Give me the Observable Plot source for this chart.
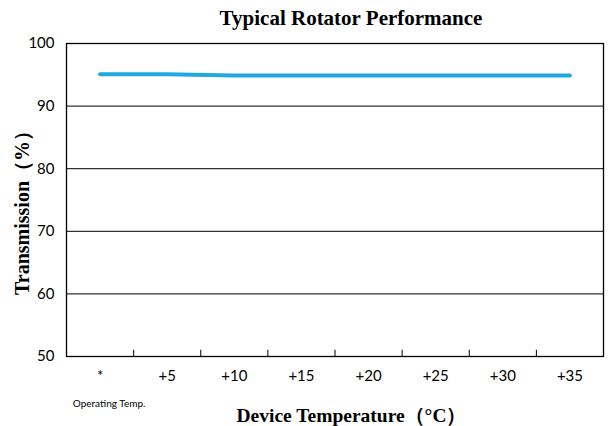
<!DOCTYPE html>
<html><head><meta charset="utf-8">
<script src="https://cdn.jsdelivr.net/npm/d3@7"></script>
<script src="https://cdn.jsdelivr.net/npm/@observablehq/plot@0.6"></script>
<style>
body{margin:0;background:#fff;width:610px;height:426px;overflow:hidden}
.title{height:36px;padding-left:92px;text-align:center;font:bold 21px "Liberation Serif","DejaVu Serif",serif;line-height:36px;color:#000}
.xlabel{height:16px;padding-left:93px;text-align:center;font:bold 19.5px "Liberation Serif","DejaVu Serif",serif;line-height:16px;color:#000;white-space:nowrap}
#chart svg{display:block}
</style></head><body>
<div class="title">Typical Rotator Performance</div>
<div id="chart"></div>
<div class="xlabel">Device Temperature（°C）</div>
<script>
const categories = ["*", "+5", "+10", "+15", "+20", "+25", "+30", "+35"];
const transmission = [95.1, 95.1, 94.9, 94.9, 94.9, 94.9, 94.9, 94.9];
const yTicks = [50, 60, 70, 80, 90, 100];
const gridValues = [60, 70, 80, 90];
const yLabel = "Transmission（%）";
const footnote = "Operating Temp.";

const n = categories.length;
const data = categories.map((c, i) => ({c, x: i + 0.5, v: transmission[i]}));
const positions = data.map(d => d.x);
const boundaries = d3.range(1, n);

const chart = Plot.plot({
  width: 610, height: 372,
  marginTop: 7, marginBottom: 52, marginLeft: 66, marginRight: 7,
  x: {domain: [0, n]},
  y: {domain: [50, 100]},
  style: {fontFamily: "Lato, 'Open Sans', sans-serif", fontSize: "15px", color: "#000", background: "#fff", overflow: "visible"},
  marks: [
    Plot.ruleY(gridValues, {stroke: "#000", strokeWidth: 1}),
    Plot.ruleX(boundaries, {y1: 50, y2: 51, stroke: "#000", strokeWidth: 1}),
    Plot.frame({stroke: "#000", strokeWidth: 1.3}),
    Plot.line(data, {x: "x", y: "v", stroke: "#22a8e0", strokeWidth: 4}),
    Plot.axisY({ticks: yTicks, tickSize: 0, tickPadding: 12, label: null}),
    Plot.axisX({ticks: positions, tickSize: 0, tickPadding: 14, tickFormat: d => categories[Math.floor(d)], label: null}),
    Plot.text([yLabel], {frameAnchor: "left", textAnchor: "middle", rotate: -90, dx: -44, dy: 8, fontWeight: "bold", fontFamily: "'Liberation Serif', serif", fontSize: 20}),
    Plot.text([data[0]], {x: "x", text: () => footnote, frameAnchor: "bottom", dy: 50, dx: 9, fontSize: 10, letterSpacing: "-0.3px"})
  ]
});
document.getElementById("chart").appendChild(chart);
</script>
</body></html>
